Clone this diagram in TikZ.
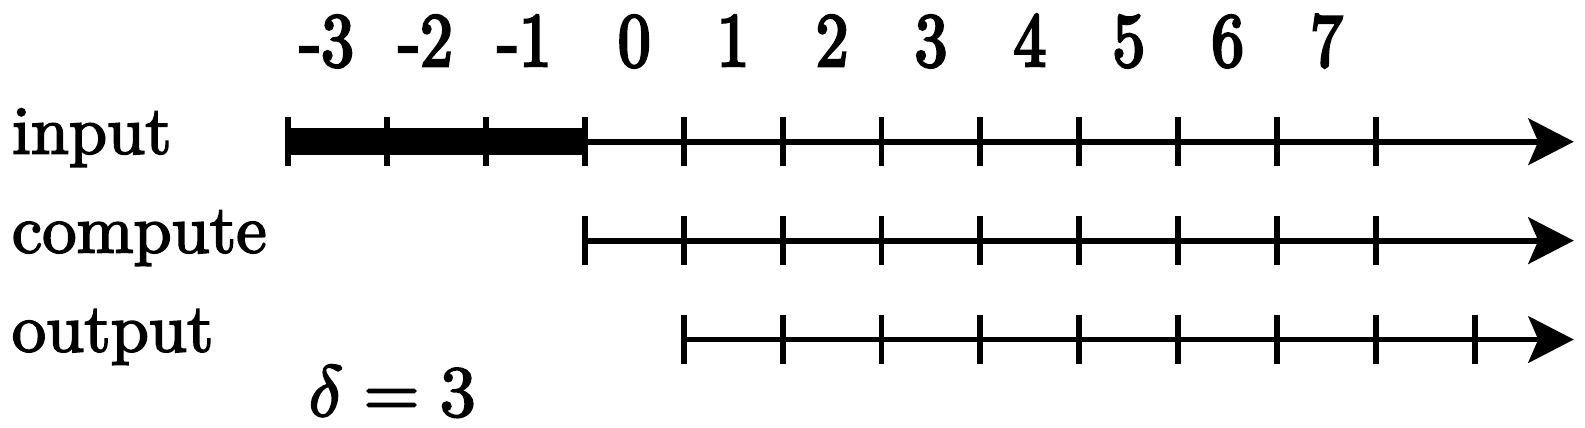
\documentclass[tikz,border=0pt]{standalone}
\usepackage{amsmath}
\usepackage{unicode-math}
\setmainfont{lmroman10-regular}[Extension=.otf,FakeBold=2.5]
\setmathfont{latinmodern-math.otf}[FakeBold=2.5]
\newfontfamily\idxfont{lmroman10-regular}[Extension=.otf,FakeStretch=0.85,FakeBold=3.5]
\usetikzlibrary{arrows.meta}

\begin{document}
\begin{tikzpicture}[font=\fontsize{19.7}{24}\selectfont,
    axis/.style={line width=1.7pt,-{Stealth[length=4.6mm,width=4.7mm,inset=1mm]}},
    tick/.style={line width=1.7pt},
    rowlabel/.style={inner sep=0pt,anchor=base west},
    idxlabel/.style={inner sep=0pt,anchor=base,font=\fontsize{22}{26}\idxfont}]
                \useasboundingbox (-5.913,-2.885) rectangle (10.113,1.433);
                % row labels
                \node[rowlabel] (input)   at (-5.80,-0.12) {input};
                \node[rowlabel] (compute) at (-5.80,-1.12) {compute};
                \node[rowlabel] (output)  at (-5.80,-2.12) {output};
                \node[rowlabel,font=\fontsize{20.8}{24}\selectfont] (delta) at (-2.80,-2.774) {$\delta = 3$};
                % indices
                \foreach \i/\n in {-3/3,-2/2,-1/1}{\node[idxlabel] (idx\n m) at (\i+0.5,0.765) {\llap{-}\n};}
                \foreach \i in {0,...,7}{\node[idxlabel] (idx\i) at (\i+0.5,0.765) {\i};}
                % input
                \coordinate (in-a) at (-3,0);
                \coordinate (in-b) at (0,0);
                \coordinate (in-c) at (10,0);
                \draw[line width=7.8pt] (in-a) -- (in-b);
                \draw[axis] (in-b) -- (in-c);
                \foreach \i in {-3,...,8}{\draw[tick] (\i,0.25) -- + (0,-0.5);}
                % compute
                \coordinate (cp-a) at (0,-1);
                \coordinate (cp-b) at (10,-1);
                \draw[axis] (cp-a) -- (cp-b);
                \foreach \i in {0,...,8}{\draw[tick] (\i,-0.75) -- + (0,-0.5);}
                % output
                \coordinate (out-a) at (1,-2);
                \coordinate (out-b) at (10,-2);
                \draw[axis] (out-a) -- (out-b);
                \foreach \i in {1,...,9}{\draw[tick] (\i,-1.75) -- + (0,-0.5);}
            \end{tikzpicture}
\end{document}
